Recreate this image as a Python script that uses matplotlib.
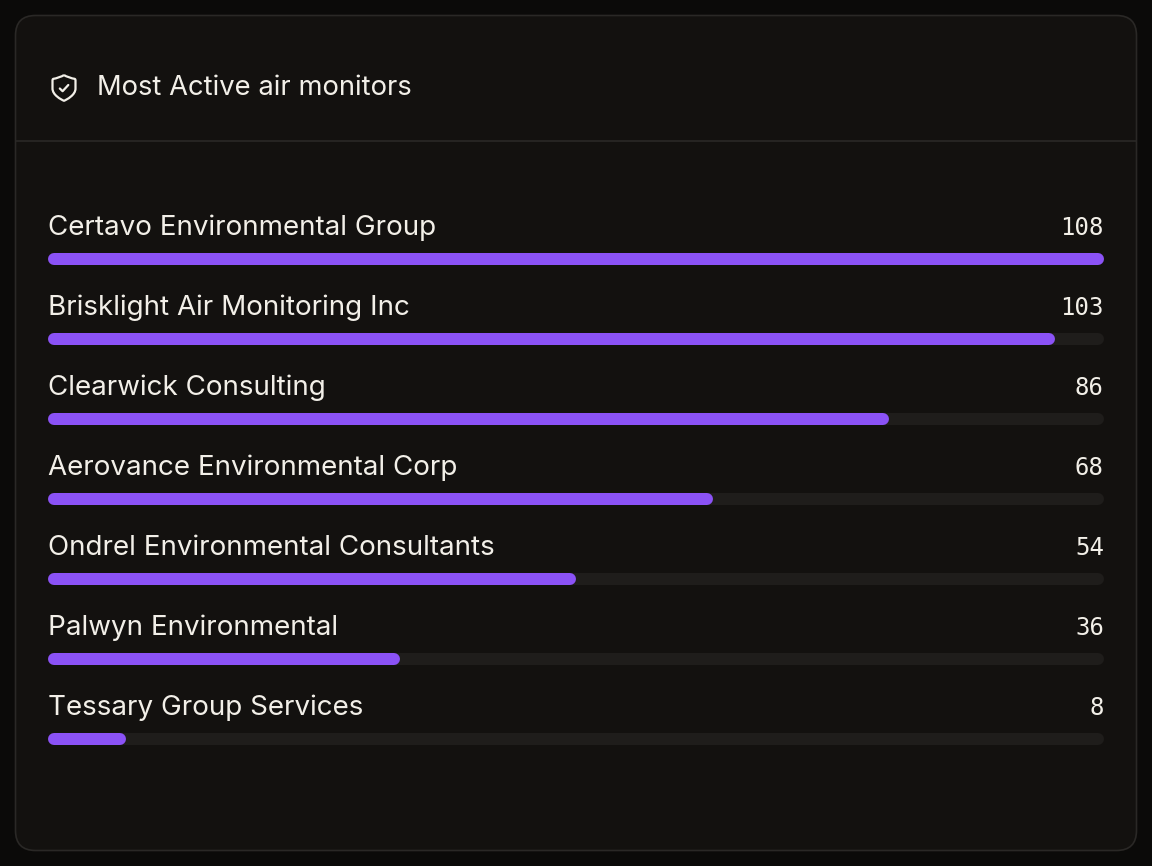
import matplotlib
matplotlib.use("Agg")
import matplotlib.pyplot as plt
from matplotlib.patches import FancyBboxPatch, PathPatch
from matplotlib.path import Path

# data
title = "Most Active air monitors"
companies = ["Certavo Environmental Group", "Brisklight Air Monitoring Inc",
             "Clearwick Consulting", "Aerovance Environmental Corp",
             "Ondrel Environmental Consultants", "Palwyn Environmental",
             "Tessary Group Services"]
counts = [108, 103, 86, 68, 54, 36, 8]

W, H = 1152, 866
BG = "#0b0a09"
CARD = "#13110f"
EDGE = "#2a2826"
TRACK = "#1f1d1b"
PURPLE = "#8b52f6"
TXT = "#f2efe8"

fig = plt.figure(figsize=(W / 100, H / 100), dpi=100, facecolor=BG)

# overlay in pixel coords for the card, header and icon
bg = fig.add_axes([0, 0, 1, 1])
bg.set_xlim(0, W)
bg.set_ylim(H, 0)
bg.axis("off")
bg.add_patch(FancyBboxPatch((15.5, 15.5), 1121, 835, boxstyle="round,pad=0,rounding_size=20",
                            facecolor=CARD, edgecolor=EDGE, linewidth=1.2))
bg.plot([16, 1136], [141, 141], color=EDGE, lw=1.2)

# shield icon
verts = [(64, 75), (66, 76.5), (72, 78.5), (74.5, 78.8),
         (75.5, 79), (75.5, 80), (75.5, 80.5),
         (75.5, 88.5),
         (75.5, 95), (67, 99.5), (64, 100.8),
         (61, 99.5), (52.5, 95), (52.5, 88.5),
         (52.5, 80.5),
         (52.5, 80), (52.5, 79), (53.5, 78.8),
         (56, 78.5), (62, 76.5), (64, 75)]
codes = [Path.MOVETO, Path.CURVE4, Path.CURVE4, Path.CURVE4,
         Path.CURVE4, Path.CURVE4, Path.CURVE4,
         Path.LINETO,
         Path.CURVE4, Path.CURVE4, Path.CURVE4,
         Path.CURVE4, Path.CURVE4, Path.CURVE4,
         Path.LINETO,
         Path.CURVE4, Path.CURVE4, Path.CURVE4,
         Path.CURVE4, Path.CURVE4, Path.CURVE4]
bg.add_patch(PathPatch(Path(verts, codes), facecolor="none", edgecolor=TXT, lw=1.6,
                       joinstyle="round"))
bg.plot([59.8, 62.6, 68.3], [88.5, 91.2, 85], color=TXT, lw=1.6, solid_capstyle="round",
        solid_joinstyle="round")
bg.text(97, 88, title, color=TXT, fontsize=19.7, family="Inter", va="center", ha="left")

# bars
ax = fig.add_axes([48 / W, 1 - 780 / H, 1056 / W, 600 / H])
ax.set_facecolor("none")
xmax = max(counts)
ax.set_xlim(0, xmax)
ax.set_ylim(6 + 41 / 80, -79 / 80)
ax.axis("off")

lw_px = 12
r = (lw_px / 2) * xmax / 1056
for i, (name, v) in enumerate(zip(companies, counts)):
    ax.plot([r, xmax - r], [i, i], color=TRACK, lw=lw_px * 0.72, solid_capstyle="round")
    ax.plot([r, max(v - r, r)], [i, i], color=PURPLE, lw=lw_px * 0.72, solid_capstyle="round")
    ax.text(0, i - 0.39, name, color=TXT, fontsize=20, family="Inter", va="center", ha="left")
    ax.text(xmax, i - 0.39, str(v), color=TXT, fontsize=17.3, family="DejaVu Sans Mono",
            va="center", ha="right")

fig.savefig("out.png", dpi=100, facecolor=BG)
